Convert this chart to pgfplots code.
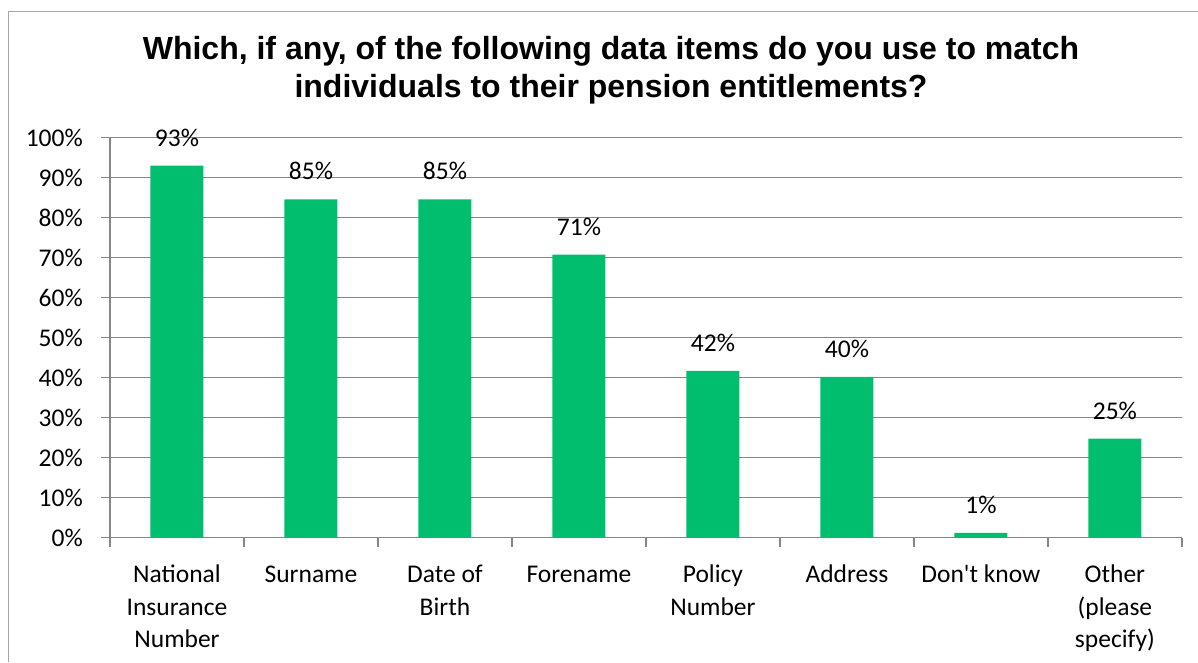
\documentclass[border=0pt]{standalone}
\usepackage{fontspec}
\setmainfont{Carlito}
\newfontfamily\titlefont{Liberation Sans}
\usepackage{pgfplots}
\pgfplotsset{compat=1.18}
\definecolor{bargreen}{RGB}{0,190,110}
\definecolor{gridgray}{RGB}{134,134,134}
\definecolor{framegray}{RGB}{166,166,166}
\begin{document}
\begin{tikzpicture}[x=1pt,y=1pt]
\path[use as bounding box] (0,0) rectangle (1198,662);
\draw[framegray, line width=1.3pt] (8.3,0) -- (8.3,650.5) -- (1198,650.5);
\node[font=\titlefont\bfseries\fontsize{32}{38}\selectfont, anchor=base, inner sep=0pt] at (611,602) {Which, if any, of the following data items do you use to match};
\node[font=\titlefont\bfseries\fontsize{32}{38}\selectfont, anchor=base, inner sep=0pt] at (611,564) {individuals to their pension entitlements?};
\begin{axis}[
  at={(110pt,124.3pt)}, anchor=south west,
  scale only axis, width=1072pt, height=400pt,
  ybar, bar width=53pt,
  xmin=-0.5, xmax=7.5, ymin=0, ymax=100,
  enlargelimits=false, clip=false,
  axis lines*=left,
  axis line style={gridgray, line width=1.3pt},
  ymajorgrids, grid style={gridgray, line width=1.3pt},
  ytick={0,10,...,100},
  yticklabels={0\%,10\%,20\%,30\%,40\%,50\%,60\%,70\%,80\%,90\%,100\%},
  xtick={-0.5,0.5,...,7.5},
  xticklabels={},
  extra x ticks={0,...,7},
  extra x tick labels={{\strut National\\Insurance\\Number},\strut Surname,{\strut Date of\\Birth},\strut Forename,{\strut Policy\\Number},\strut Address,{\strut Don\textquotesingle t know},{\strut Other\\(please\\specify)}},
  extra x tick style={major tick length=0pt, grid=none},
  tick align=outside,
  major tick length=9pt,
  tick style={gridgray, line width=1.3pt},
  tick label style={font=\fontsize{25.5}{32.5}\selectfont, text=black},
  yticklabel style={anchor=east, inner sep=0pt, xshift=-18pt},
  xticklabel style={align=center, anchor=north, inner sep=0pt, yshift=-22pt},
  nodes near coords={\pgfplotspointmeta\%},
  point meta=explicit symbolic,
  every node near coord/.append style={font=\fontsize{25.5}{32.5}\selectfont, text=black, inner sep=0pt, anchor=south, yshift=19pt},
]
\addplot[fill=bargreen, draw=none] table[x=x, y=y, meta=lab] {
x y lab
0 93.0 93
1 84.6 85
2 84.6 85
3 70.8 71
4 41.7 42
5 40.2 40
6 1.2 1
7 24.8 25
};
\end{axis}
\end{tikzpicture}
\end{document}
